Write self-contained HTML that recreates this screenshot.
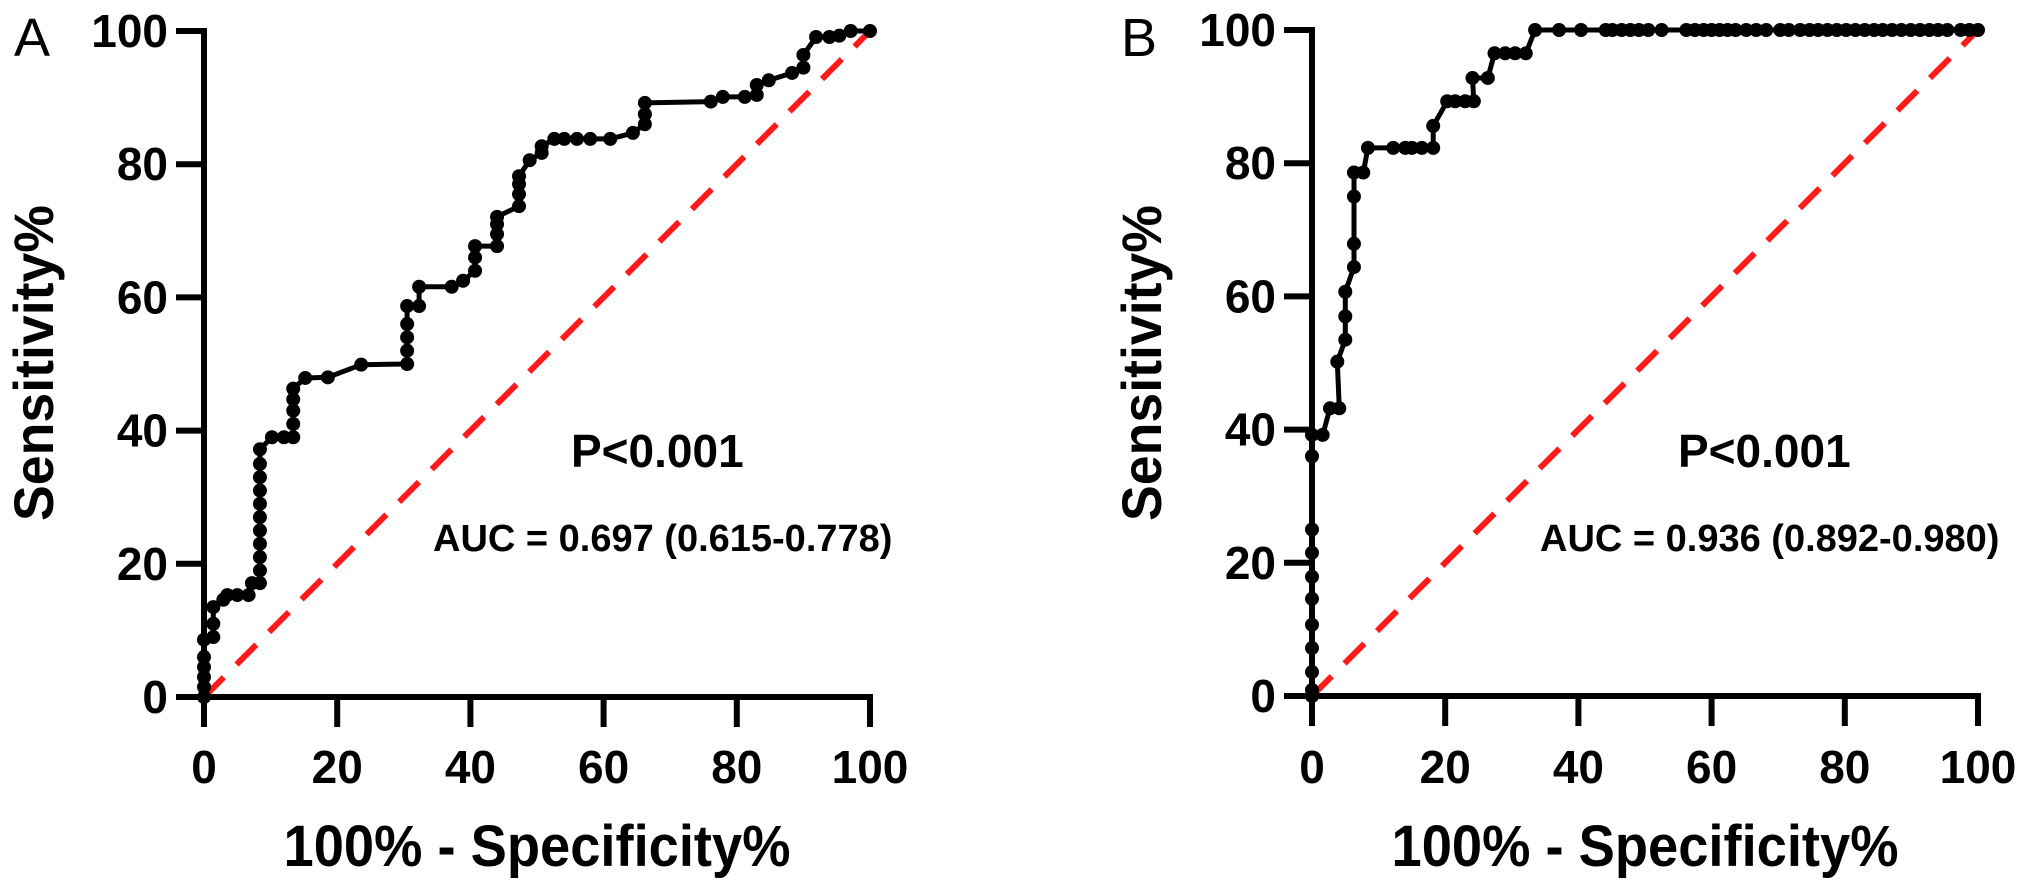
<!DOCTYPE html>
<html><head><meta charset="utf-8"><style>
html,body{margin:0;padding:0;background:#fff;}
svg{display:block;font-family:"Liberation Sans",Arial,sans-serif;}
</style></head><body>
<svg id="chart" width="2031" height="893" viewBox="0 0 2031 893"></svg>
<script>
const ticks = [0, 20, 40, 60, 80, 100];
const tickLabels = ["0", "20", "40", "60", "80", "100"];
const fprA = [0,0,0,0,0,0,1.4,1.4,1.4,2.9,3.5,5,6.7,7.2,8.4,8.4,8.4,8.4,8.4,8.4,8.4,8.4,8.4,8.4,8.4,10.2,12,13.4,13.4,13.4,13.4,13.4,15.2,18.6,23.6,30.5,30.5,30.5,30.5,30.5,32.3,32.3,37.2,38.9,40.7,40.7,40.7,44,44,44,44,47.3,47.3,47.3,47.3,48.9,50.7,50.7,52.6,54.1,56,58,61,64.4,66.2,66.2,66.2,76.1,77.9,81.2,83,83,84.8,88.3,90,90,91.9,93.9,95.4,97.1,100];
const tprA = [0,1.5,3,4.5,6,8.6,9,11,13.5,14.6,15.3,15.3,15.3,17.1,17.1,19,21,23,25,27,29,31,33,35,37.2,39,39,39,41,43,44.7,46.3,47.9,48,49.9,50,52,54,56,58.7,58.7,61.6,61.6,62.5,64,66,67.7,67.7,69.5,71,72.1,73.7,75.5,77,78.2,80.6,81.7,82.7,83.8,83.8,83.8,83.8,83.8,84.7,86,87.5,89.2,89.4,90.1,90.1,90.4,91.9,92.6,93.7,94.5,96.4,99.1,99.1,99.3,100,100];
const fprB = [0,0,0,0,0,0,0,0,0,0,0,1.6,2.7,4.1,3.8,5,5,5,6.3,6.3,6.3,6.3,7.7,8.4,12.2,14,15,16.5,18.2,18.2,20.3,21.5,23,24.3,24.1,26.4,27.4,29,30.5,32.1,33.5,37.1,40.4,44.1,45.1,46.5,47.8,49.1,50.5,52.5,56.2,57.5,58.8,60,61.2,62.4,63.6,65.2,66.7,68.2,70.3,71.6,73.3,74.7,76,77.4,78.8,80.2,81.6,83,84.4,85.7,87.1,88.5,89.9,91.3,92.7,94,95.4,97.4,98.7,100];
const tprB = [0,0.9,3.6,7.2,10.7,14.6,17.9,21.5,25,36,39.2,39.2,43.2,43.2,50.2,53.5,57,60.7,64.4,67.9,75,78.6,78.6,82.3,82.3,82.3,82.3,82.3,82.3,85.6,89.3,89.3,89.3,89.3,92.8,92.8,96.5,96.5,96.5,96.5,100,100,100,100,100,100,100,100,100,100,100,100,100,100,100,100,100,100,100,100,100,100,100,100,100,100,100,100,100,100,100,100,100,100,100,100,100,100,100,100,100,100];

const NS = "http://www.w3.org/2000/svg";
const svg = document.getElementById("chart");
function mk(tag, attrs, parent) {
  const e = document.createElementNS(NS, tag);
  for (const k in attrs) e.setAttribute(k, attrs[k]);
  (parent || svg).appendChild(e);
  return e;
}

function panel(key, letter, x0, x1, y0, y1, fpr, tpr, pText, aucText, letterX) {
  const sx = v => x0 + (x1 - x0) * v / 100;
  const sy = v => y0 - (y0 - y1) * v / 100;
  const g = mk("g", {});
  
  

  const lab = mk("text", {x: letterX, y: 56, "font-size": 54}, g);
  lab.textContent = letter;
  
  

  // axes
  const ax = mk("path", {d: `M${x0} ${sy(100)} V${y0} H${x1}`, stroke: "#000", "stroke-width": 6, fill: "none", "stroke-linecap": "square"}, g);
  
  

  ticks.forEach((t, i) => {
    const yt = mk("line", {x1: x0 - 28, x2: x0, y1: sy(t), y2: sy(t), stroke: "#000", "stroke-width": 6}, g);
    
    
    const yl = mk("text", {x: x0 - 36, y: sy(t) + 16, "font-size": 46, "font-weight": "bold", "text-anchor": "end"}, g);
    yl.textContent = tickLabels[i];
    
    
    const xt = mk("line", {x1: sx(t), x2: sx(t), y1: y0, y2: y0 + 30, stroke: "#000", "stroke-width": 6}, g);
    
    
    const xl = mk("text", {x: sx(t), y: 783, "font-size": 46, "font-weight": "bold", "text-anchor": "middle"}, g);
    xl.textContent = tickLabels[i];
    
    
  });

  const xt = mk("text", {x: (x0 + x1) / 2, y: 866, "font-size": 58, "font-weight": "bold", "text-anchor": "middle", textLength: 507, lengthAdjust: "spacingAndGlyphs"}, g);
  xt.textContent = "100% - Specificity%";
  
  

  const ytx = x0 - 151, yty = 363;
  const yt = mk("text", {x: ytx, y: yty, "font-size": 56, "font-weight": "bold", "text-anchor": "middle", textLength: 316, lengthAdjust: "spacingAndGlyphs", transform: `rotate(-90 ${ytx} ${yty})`}, g);
  yt.textContent = "Sensitivity%";
  
  

  // reference diagonal
  const diag = mk("line", {x1: sx(0), y1: sy(0), x2: sx(100), y2: sy(100), stroke: "#ff1a1a", "stroke-width": 6, "stroke-dasharray": "28 18"}, g);
  
  

  // ROC curve
  const d = fpr.map((v, i) => (i ? "L" : "M") + sx(v).toFixed(1) + " " + sy(tpr[i]).toFixed(1)).join(" ");
  const line = mk("path", {d: d, stroke: "#000", "stroke-width": 5, fill: "none", "stroke-linejoin": "round"}, g);
  
  
  fpr.forEach((v, i) => {
    const c = mk("circle", {cx: sx(v), cy: sy(tpr[i]), r: 7, fill: "#000"}, g);
    
    
  });

  const p = mk("text", {x: pText[0], y: 467, "font-size": 46, "font-weight": "bold"}, g);
  p.textContent = "P<0.001";
  
  
  const a = mk("text", {x: aucText[0], y: 551, "font-size": 38, "font-weight": "bold"}, g);
  a.textContent = aucText[1];
  
  
}

panel("a", "A", 204, 870, 697, 31, fprA, tprA, [571], [433, "AUC = 0.697 (0.615-0.778)"], 14);
panel("b", "B", 1312, 1978, 696, 30, fprB, tprB, [1678], [1540, "AUC = 0.936 (0.892-0.980)"], 1121);
</script>
</body></html>
